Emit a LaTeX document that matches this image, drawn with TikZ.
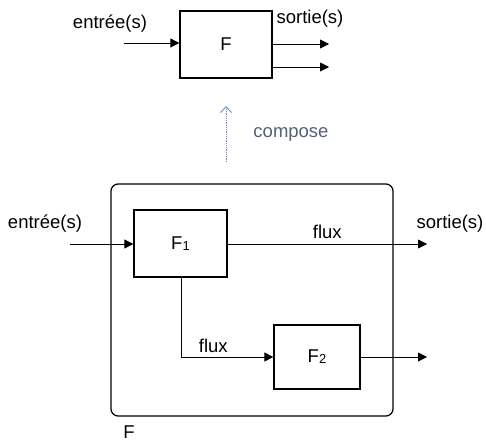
\documentclass[tikz,border=0pt]{standalone}
\usepackage{fontspec}
\setmainfont{Liberation Sans}
\usetikzlibrary{arrows.meta, positioning}
\definecolor{composeblue}{RGB}{105,135,195}
\definecolor{composetext}{RGB}{85,95,120}

\begin{document}
\begin{tikzpicture}[
        x=1pt, y=-1pt,
        font=\fontsize{18.5}{21}\selectfont,
        block/.style={
            draw,
            line width=1.3pt,
            inner sep=0pt
        },
        outer/.style={
            draw,
            line width=1.3pt,
            rounded corners=2.5mm
        },
        arrow/.style={
            -{Triangle[length=9pt, width=9pt]},
            line width=0.8pt
        },
        line/.style={
            line width=0.8pt
        },
        composearrow/.style={
            -{Straight Barb[length=6pt, width=11pt]},
            densely dotted,
            line width=0.8pt,
            color=composeblue
        },
        labeltext/.style={
            inner sep=1pt
        }
    ]
    \useasboundingbox (0,0) rectangle (486,443);

    % fonction globale
    \node[block, minimum width=92pt, minimum height=67pt] (F) at (226,44.5) {F};
    \node[labeltext] (Fin) at (110,24) {entrée(s)};
    \node[labeltext] (Fout) at (310,19) {sortie(s)};
    \coordinate (Fa) at (124,43);
    \coordinate (Fb) at (329,44);
    \coordinate (Fc) at (329,67);
    \draw[arrow] (Fa) -- (F.west |- Fa);
    \draw[arrow] (F.east |- Fb) -- (Fb);
    \draw[arrow] (F.east |- Fc) -- (Fc);

    % composition
    \coordinate (cbot) at (226,162);
    \coordinate (ctop) at (226,106);
    \draw[composearrow] (cbot) -- (ctop);
    \node[text=composetext] (compose) at (291,134) {compose};

    % decomposition
    \draw[outer] (111,184) rectangle (393,416);
    \node (Flbl) at (129,432) {F};

    \node[block, minimum width=93pt, minimum height=67pt] (F1) at (180.5,243.5)
        {F{\fontsize{13}{13}\selectfont\raisebox{-1pt}{1}}};
    \node[block, minimum width=86pt, minimum height=64pt] (F2) at (317,357)
        {F{\fontsize{13}{13}\selectfont\raisebox{-1pt}{2}}};

    \node[labeltext] (in) at (45,224) {entrée(s)};
    \node[labeltext] (out) at (450,224) {sortie(s)};
    \coordinate (ina) at (70,244);
    \coordinate (outa) at (427,244);
    \coordinate (outb) at (427,357);
    \coordinate (bend) at (181,357);

    \draw[arrow] (ina) -- (F1.west |- ina);
    \draw[arrow] (F1.east |- outa) -- node[above=2pt] {flux} (outa);
    \draw[line] (F1.south -| bend) -- (bend);
    \draw[arrow] (bend) -- node[above=1pt, pos=0.35] {flux} (F2.west |- bend);
    \draw[arrow] (F2.east |- outb) -- (outb);

\end{tikzpicture}
\end{document}
